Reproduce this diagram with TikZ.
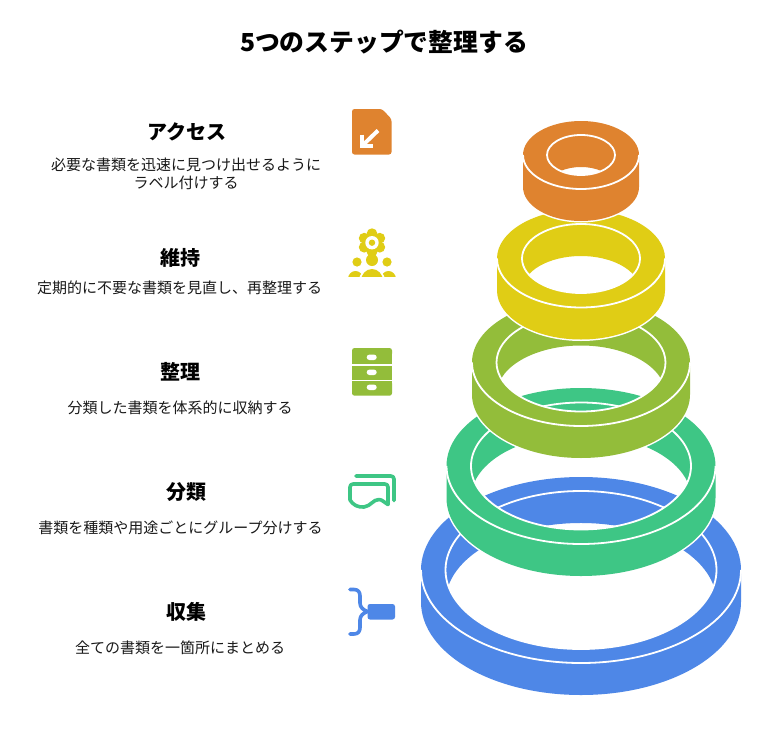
\documentclass[tikz,border=0pt]{standalone}
\usepackage{fontspec}
\usetikzlibrary{calc}
\setmainfont{Noto Sans CJK JP}
\definecolor{ringorange}{HTML}{DF832F}
\definecolor{ringyellow}{HTML}{E0CD15}
\definecolor{ringolive}{HTML}{93BD3A}
\definecolor{ringgreen}{HTML}{3EC685}
\definecolor{ringblue}{HTML}{4E87E7}
\tikzset{
  titletext/.style = {font=\fontsize{24.8}{30}\selectfont\bfseries, text=black},
  headtext/.style = {font=\fontsize{20}{24}\selectfont\bfseries, text=black},
  bodytext/.style = {font=\fontsize{15}{18}\selectfont, text=black!90, align=center},
  ringline/.style = {draw=white, line width=1.8pt},
  iconline/.style = {line width=3.6pt, line cap=round, line join=round}
}
% cx, cy, outer rx, outer ry, inner rx, inner ry, colour (depth is always 32)
\newcommand{\stackring}[7]{
  \pgfmathsetmacro{\ringt}{asin(16/#6)}
  \draw[white, line width=3pt] (#1-#3,#2) arc[start angle=180, end angle=360, x radius=#3, y radius=#4]
    -- ++(0,32) arc[start angle=0, end angle=180, x radius=#3, y radius=#4] -- cycle;
  \fill[#7, even odd rule] (#1-#3,#2) arc[start angle=180, end angle=360, x radius=#3, y radius=#4]
    -- ++(0,32) arc[start angle=0, end angle=180, x radius=#3, y radius=#4] -- cycle
    ({#1+#5*cos(\ringt)},{#2+16}) arc[start angle=\ringt, end angle=180-\ringt, x radius=#5, y radius=#6]
    arc[start angle=180+\ringt, end angle=360-\ringt, x radius=#5, y radius=#6] -- cycle;
  \draw[ringline] (#1-#3,#2) arc[start angle=180, end angle=0, x radius=#3, y radius=#4];
  \draw[ringline] (#1,#2) ellipse[x radius=#5, y radius=#6];
}
\begin{document}
\begin{tikzpicture}[x=1pt,y=-1pt]
    \useasboundingbox (0,0) rectangle (768,744);
    \fill[white] (0,0) rectangle (768,744);

    \node [titletext] (title) at (384,42) {5つのステップで整理する};

    \node [headtext] (head_access) at (186.5,132) {アクセス};
    \node [bodytext] (body_access) at (186,174) {必要な書類を迅速に見つけ出せるように\\ラベル付けする};
    \node [headtext] (head_keep) at (180,258) {維持};
    \node [bodytext] (body_keep) at (179.5,288) {定期的に不要な書類を見直し、再整理する};
    \node [headtext] (head_sort) at (180,372) {整理};
    \node [bodytext] (body_sort) at (180,408) {分類した書類を体系的に収納する};
    \node [headtext] (head_class) at (186,492) {分類};
    \node [bodytext] (body_class) at (180.5,528) {書類を種類や用途ごとにグループ分けする};
    \node [headtext] (head_collect) at (186,612) {収集};
    \node [bodytext] (body_collect) at (180,648) {全ての書類を一箇所にまとめる};

    % rings, lowest first
    \stackring{581}{570}{160}{93}{135.5}{79}{ringblue}
    \stackring{581}{466}{134.5}{78}{110}{63.5}{ringgreen}
    \stackring{581}{362.5}{109}{63.5}{84.5}{49}{ringolive}
    \stackring{581}{258.5}{84}{49}{59}{34.5}{ringyellow}
    \stackring{581}{155}{58}{34}{34}{20}{ringorange}

    % file icon
    \fill[ringorange, rounded corners=2.5pt] (352,109) -- (382,109) -- (391.5,119) -- (391.5,154.5) -- (352,154.5) -- cycle;
    \draw[white, line width=4pt] (378,130.5) -- (364,144);
    \draw[white, line width=4pt] (362,134.5) -- (362,145.5) -- (373,145.5);

    % flower and people icon
    \foreach \a in {30,90,...,330}
        \fill[ringyellow] ($(372,242.7)+(\a:9)$) circle (5.4);
    \fill[ringyellow] (372,242.7) circle (9);
    \fill[white] (372,242.7) circle (6.7);
    \fill[ringyellow] (372,242.7) circle (3.2);
    \fill[ringyellow] (357,262) circle (4.6);
    \fill[ringyellow] (372,260) circle (6);
    \fill[ringyellow] (387,262) circle (4.6);
    \begin{scope}
        \clip (345,262) rectangle (400,276);
        \fill[ringyellow] (355.5,279) ellipse[x radius=7.5, y radius=8];
        \fill[ringyellow] (388.5,279) ellipse[x radius=7.5, y radius=8];
        \fill[white] (372,281) ellipse[x radius=13, y radius=13.5];
        \fill[ringyellow] (372,281) ellipse[x radius=11, y radius=12];
    \end{scope}

    % cabinet icon
    \fill[ringolive, rounded corners=2.5pt] (352,348) rectangle (392,356);
    \fill[ringolive] (352,352) rectangle (392,363.7);
    \fill[ringolive] (352,366) rectangle (392,379.5);
    \fill[ringolive, rounded corners=2.5pt] (352,381) -- (392,381) -- (392,395.7) -- (352,395.7) -- cycle;
    \fill[ringolive] (352,381) rectangle (392,386);
    \foreach \y in {357.3,372.3,387.3}
        \fill[white, rounded corners=2.7pt] (366.7,\y-2.7) rectangle (376.7,\y+2.7);

    % folded sheet icon
    \draw[ringgreen, iconline, rounded corners=3pt] (356,476) -- (394,476) -- (394,500.5);
    \draw[ringgreen, iconline, rounded corners=3pt] (388,504.5) -- (388,484) -- (350,484) -- (350,500);
    \draw[ringgreen, iconline] (350,500) .. controls (353,505) and (358,507.5) .. (364,507)
        .. controls (371,506) and (373,499.5) .. (379,499.5) .. controls (382,499.5) and (385,503) .. (388,504.5);

    % brace and box icon
    \fill[ringblue, rounded corners=2.5pt] (367.5,604) rectangle (395,619.5);
    \draw[ringblue, iconline] (350,589.5) -- (354,589.5) .. controls (358,589.5) and (360,592) .. (360,596)
        -- (360,603) .. controls (360,607) and (363,610) .. (367.5,611.5);
    \draw[ringblue, iconline] (350,634) -- (354,634) .. controls (358,634) and (360,631.5) .. (360,627.5)
        -- (360,620) .. controls (360,616) and (363,613) .. (367.5,611.5);
\end{tikzpicture}
\end{document}
